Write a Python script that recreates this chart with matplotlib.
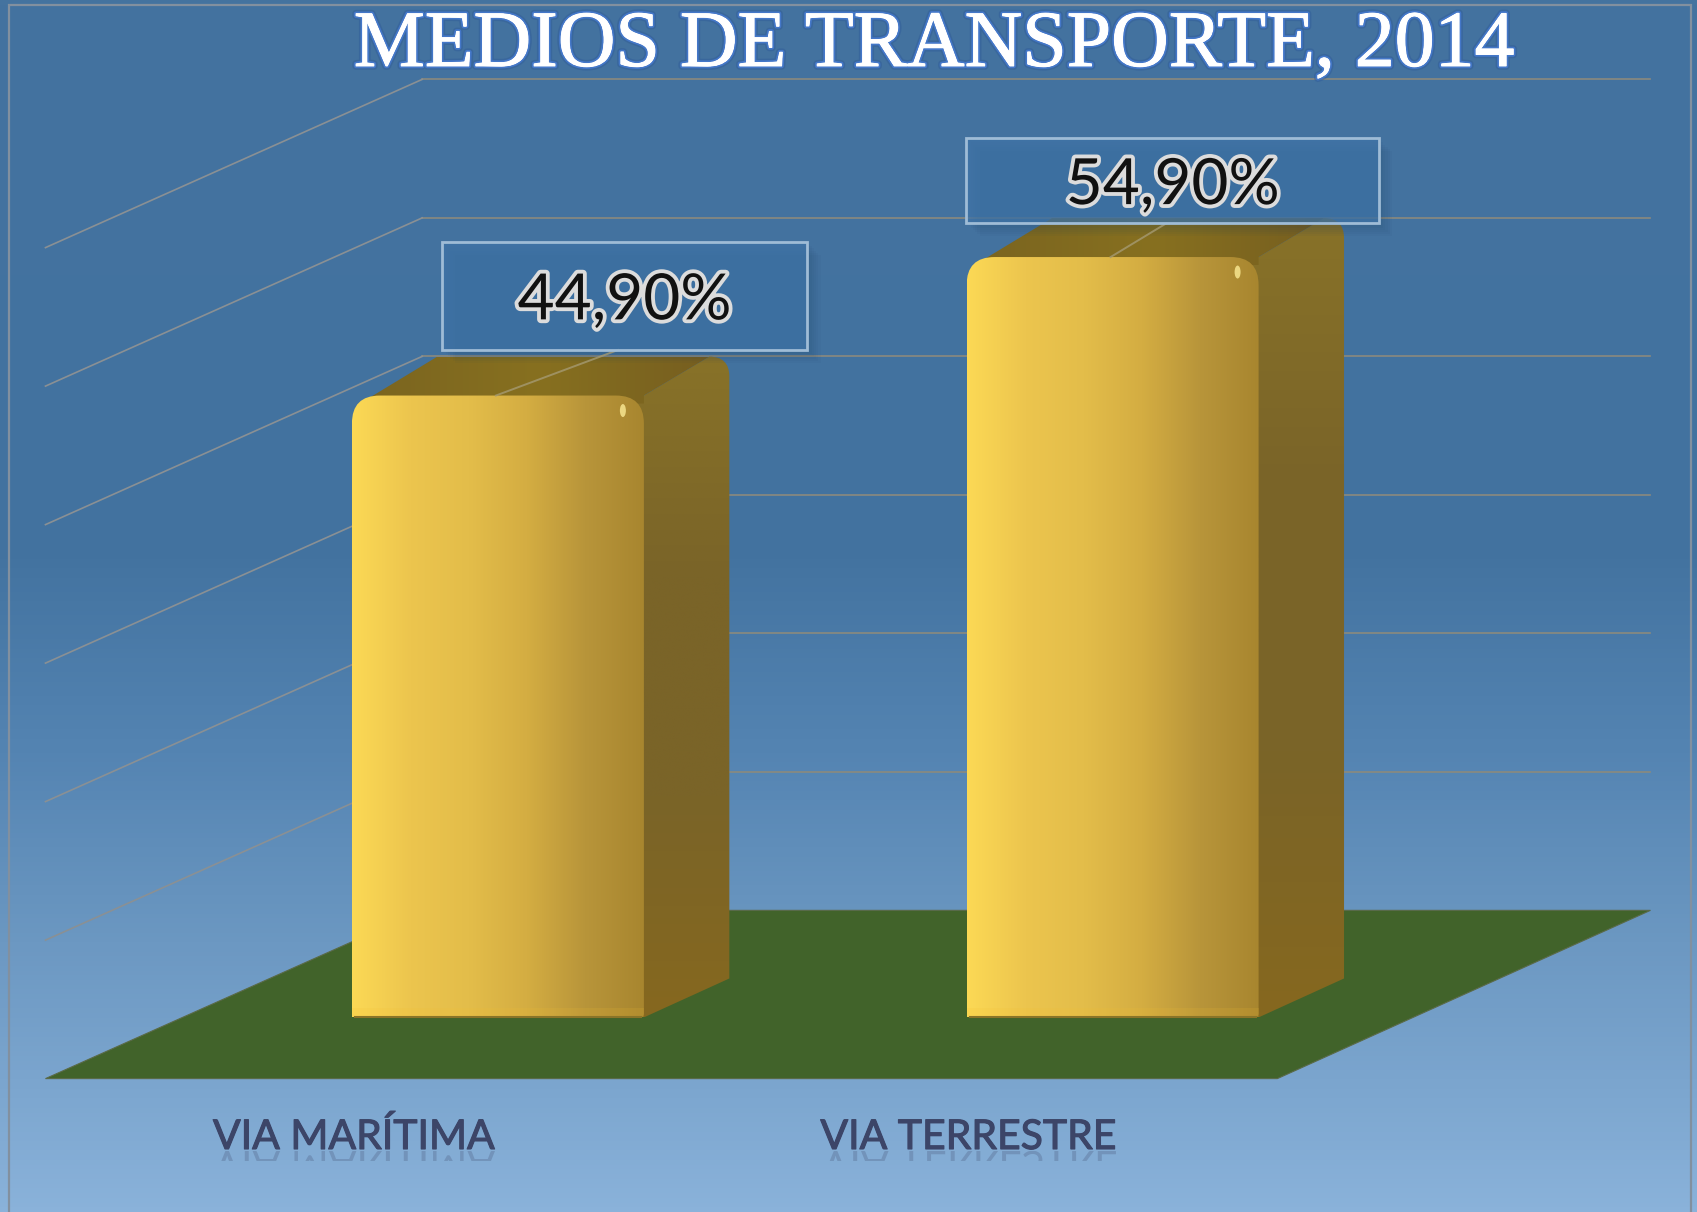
import numpy as np
import matplotlib
matplotlib.use('Agg')
from matplotlib import pyplot as plt
from matplotlib import patheffects as pe
from matplotlib.colors import LinearSegmentedColormap
from matplotlib.font_manager import FontProperties
from matplotlib.patches import PathPatch, Polygon, Rectangle, Ellipse
from matplotlib.path import Path
from matplotlib.textpath import TextPath
from matplotlib.transforms import Affine2D

title = 'MEDIOS DE TRANSPORTE, 2014'
categories = ['VIA MARÍTIMA', 'VIA TERRESTRE']
values = [44.9, 54.9]
grid_ticks = [10, 20, 30, 40, 50, 60]

W, H = 1697, 1212
X_UNIT = 614.7   # pixels per category step
Y_UNIT = 13.85   # pixels per percentage point
X_ZERO = 497.9   # pixel of first category
Y_ZERO = 1017.4  # pixel of value 0

BAR_W = 0.475
DX, DY = 0.139, 2.81          # bar depth
WALL_Y = 7.73                 # back wall base above the front of the bars
SIDE_DY = 12.15               # drop of the floor from back to front
FLOOR_L, FLOOR_R = -0.736, 1.268
BACK_L, BACK_R = -0.123, 1.875


def gradient(ax, path, stops, extent, horizontal=True, zorder=3):
    # fill a path with a linear gradient, image clipped to the path
    cmap = LinearSegmentedColormap.from_list('g', stops)
    g = np.linspace(0, 1, 256)
    g = g[None, :] if horizontal else g[:, None]
    im = ax.imshow(g, cmap=cmap, extent=extent, aspect='auto', origin='lower',
                   vmin=0, vmax=1, zorder=zorder, interpolation='bilinear')
    patch = PathPatch(path, transform=ax.transData, fc='none', ec='none')
    ax.add_patch(patch)
    im.set_clip_path(patch)
    return im


def front_path(x0, x1, top):
    rx, ry = 28 / X_UNIT, 28 / Y_UNIT
    rb = 4 / X_UNIT
    verts = [(x0 + rb, 0), (x1 - rb, 0), (x1, 0), (x1, 4 / Y_UNIT), (x1, top - ry), (x1, top), (x1 - rx, top),
             (x0 + rx, top), (x0, top), (x0, top - ry), (x0, 0), (x0 + rb, 0)]
    codes = [Path.MOVETO, Path.LINETO, Path.CURVE3, Path.CURVE3, Path.LINETO, Path.CURVE3, Path.CURVE3,
             Path.LINETO, Path.CURVE3, Path.CURVE3, Path.LINETO, Path.CLOSEPOLY]
    return Path(verts, codes)


def side_path(x1, top):
    # starts a little behind the front face so its rounded corner has no gap
    rx, ry = 20 / X_UNIT, 20 / Y_UNIT
    xb, yb = x1 + DX, top + DY
    inner = x1 - 30 / X_UNIT
    verts = [(inner, 0), (x1, 0), (xb, DY), (xb, yb - ry), (xb, yb), (xb - rx, yb), (x1, top), (inner, top), (inner, 0)]
    codes = [Path.MOVETO, Path.LINETO, Path.LINETO, Path.LINETO, Path.CURVE3, Path.CURVE3, Path.LINETO,
             Path.LINETO, Path.CLOSEPOLY]
    return Path(verts, codes)


def reflection(ax, s, x_px, y_px, size):
    # short mirrored copy below the category labels
    fp = FontProperties(family='Lato', size=size)
    tp = TextPath((0, 0), s, prop=fp)
    bb = tp.get_extents()
    k = 100 / 72
    tr = Affine2D().translate(-bb.width / 2, 0).scale(k, -k).translate(x_px, H - y_px)
    patch = PathPatch(tp, transform=tr, fc='#3c4568', ec='none', alpha=0.24, zorder=6)
    ax.add_patch(patch)
    clip = Rectangle((0, H - y_px - 10), W, 10, transform=Affine2D(), fc='none', ec='none')
    ax.add_patch(clip)
    patch.set_clip_path(clip)


if __name__ == "__main__":

    fig = plt.figure(figsize=(W / 100, H / 100), dpi=100)
    ax = fig.add_axes([0, 0, 1, 1])
    xlim = (-X_ZERO / X_UNIT, (W - X_ZERO) / X_UNIT)
    ylim = (-(H - Y_ZERO) / Y_UNIT, Y_ZERO / Y_UNIT)

    # background
    bg = LinearSegmentedColormap.from_list('bg', [(0, '#44739f'), (0.45, '#42729f'), (0.62, '#5484b2'),
                                                  (0.78, '#6c98c2'), (0.9, '#7ca6cf'), (1, '#8ab2da')])
    ax.imshow(np.linspace(1, 0, 256)[:, None], cmap=bg, extent=(*xlim, *ylim), aspect='auto',
              origin='lower', vmin=0, vmax=1, zorder=0)

    # floor
    ax.add_patch(Polygon([(FLOOR_L, WALL_Y - SIDE_DY), (FLOOR_R, WALL_Y - SIDE_DY),
                          (BACK_R, WALL_Y), (BACK_L, WALL_Y)], fc='#41632a', ec='#5a6a48', lw=0.8, zorder=1))

    # walls
    for v in grid_ticks:
        ax.plot([BACK_L, BACK_R], [v + WALL_Y, v + WALL_Y], color='#8b8a7e', lw=1.2, zorder=2)
        ax.plot([FLOOR_L, BACK_L], [v + WALL_Y - SIDE_DY, v + WALL_Y], color='#8a9094', lw=1.2, zorder=2)

    # bars
    for i, v in enumerate(values):
        x0, x1 = i - BAR_W / 2, i + BAR_W / 2
        gradient(ax, side_path(x1, v), ['#86681f', '#7a6428', '#7a6428', '#887228'],
                 (x1 - 30 / X_UNIT, x1 + DX, 0, v + DY), horizontal=False)
        top = Polygon([(x0 + 8 / X_UNIT, v - 8 / Y_UNIT), (x0 + DX, v + DY), (x1 + DX - 20 / X_UNIT, v + DY),
                       (x1, v), (x1, v - 8 / Y_UNIT)], closed=True, fc='none', ec='none')
        gradient(ax, Path(top.get_xy()), ['#7a6420', '#87701f', '#745c20'],
                 (x0, x1 + DX, v - 8 / Y_UNIT, v + DY))
        gradient(ax, front_path(x0, x1, v),
                 ['#fcd955', '#ecc54e', '#e3bd4a', '#d4ad42', '#b8953a', '#a8862f'],
                 (x0, x1, 0, v), zorder=4)
        ax.add_patch(Rectangle((x0, 0), BAR_W, 9 / Y_UNIT, fc='#f5bf30', ec='none', alpha=0.14, zorder=4))
        ax.plot([x0 + 3 / X_UNIT, x1 - 3 / X_UNIT], [0, 0], color='#8a7428', lw=1.5, zorder=4)
        ax.add_patch(Ellipse((x1 - 21 / X_UNIT, v - 15 / Y_UNIT), 6 / X_UNIT, 13 / Y_UNIT,
                             fc='#f3e08a', ec='none', alpha=0.9, zorder=5))

    # value boxes
    box_x = [(-0.0915, 0.5035), (0.7623, 1.433)]
    box_y = [(48.2, 56.0), (57.34, 63.5)]
    for i, v in enumerate(values):
        (bx0, bx1), (by0, by1) = box_x[i], box_y[i]
        for k in range(1, 7):
            off = k * 2.2
            ax.add_patch(Rectangle((bx0 + off / X_UNIT, by0 - off / Y_UNIT), bx1 - bx0, by1 - by0,
                                   fc='#1d3f63', ec='none', alpha=0.045, zorder=5))
        ax.plot([i - 2 / X_UNIT, (bx0 + bx1) / 2 - 0.01], [v, by0], color='#a59a72', lw=1.4, alpha=0.8, zorder=6)
        ax.add_patch(Rectangle((bx0, by0), bx1 - bx0, by1 - by0, fc='#3f74a8', alpha=0.72, ec='none', zorder=6))
        ax.add_patch(Rectangle((bx0, by0), bx1 - bx0, by1 - by0, fc='none', ec='#9fbcd6', lw=2.0, zorder=7))
        ax.text((bx0 + bx1) / 2, (by0 + by1) / 2 - 0.4, f'{v:.2f}%'.replace('.', ','), family='Lato', fontsize=46,
                color='#111111', ha='center', va='center', zorder=8,
                path_effects=[pe.withStroke(linewidth=5.5, foreground='#dcdcdc')])

    # category labels
    for i, c in enumerate(categories):
        x = i - 0.234
        ax.text(x, -(1149 - Y_ZERO) / Y_UNIT, c, family='Lato', fontsize=29.5, color='#3c4568',
                ha='center', va='baseline', zorder=7,
                path_effects=[pe.withStroke(linewidth=0.8, foreground='#3c4568')])
        reflection(ax, c, X_ZERO + x * X_UNIT, 1151, 29.5)

    # frame
    ax.add_patch(Rectangle((9 / W, -0.01), (1691 - 9) / W, 1.01 - 5 / H, transform=ax.transAxes,
                           fc='none', ec='#82909f', lw=1.6, zorder=9))

    fig.text(934 / W, 1 - 66 / H, title, family='Liberation Serif', fontsize=57.5, color='white',
             ha='center', va='baseline', zorder=10,
             path_effects=[pe.withStroke(linewidth=5.5, foreground='#2f5a9a', alpha=0.45),
                           pe.withStroke(linewidth=3.2, foreground='#4477c8'),
                           pe.withStroke(linewidth=0.7, foreground='white'),
                           pe.Normal()])

    ax.set_xlim(*xlim)
    ax.set_ylim(*ylim)
    ax.axis('off')
    fig.savefig('out.png', dpi=100)
